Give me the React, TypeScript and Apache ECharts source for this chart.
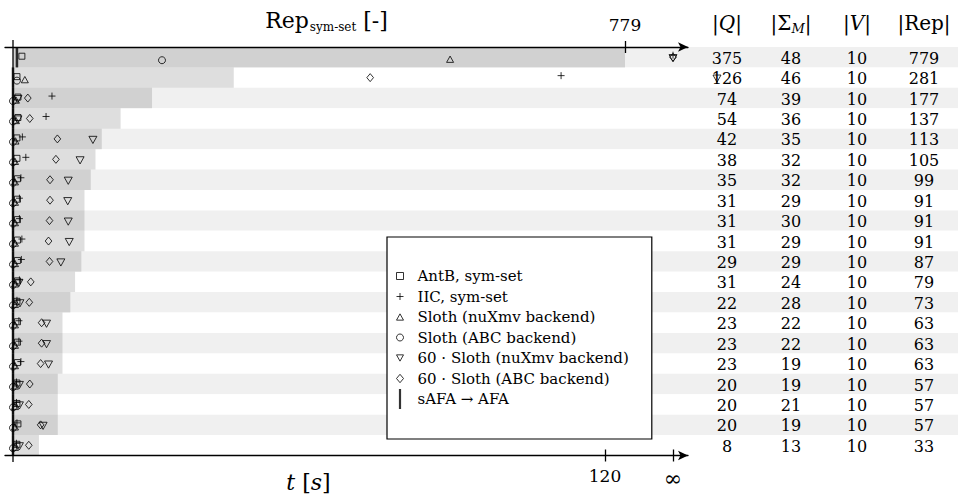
import React, { useEffect, useRef } from 'react';
import * as echarts from 'echarts';

// ---------- data ----------
const rowLabels = ['r1','r2','r3','r4','r5','r6','r7','r8','r9','r10','r11','r12','r13','r14','r15','r16','r17','r18','r19','r20'];
const qSizes = [375, 126, 74, 54, 42, 38, 35, 31, 31, 31, 29, 31, 22, 23, 23, 23, 20, 20, 20, 8];
const sigmaSizes = [48, 46, 39, 36, 35, 32, 32, 29, 30, 29, 29, 24, 28, 22, 22, 19, 19, 21, 19, 13];
const vSizes = [10, 10, 10, 10, 10, 10, 10, 10, 10, 10, 10, 10, 10, 10, 10, 10, 10, 10, 10, 10];
const repSizes = [779, 281, 177, 137, 113, 105, 99, 91, 91, 91, 87, 79, 73, 63, 63, 63, 57, 57, 57, 33];

// times in seconds, null = timeout (drawn at ∞)
const antbTimes = [1.8, 0.8, 1.0, 1.0, 0.8, 0.8, 0.9, 0.9, 0.9, 0.9, 0.9, 0.9, 0.8, 0.9, 0.9, 0.9, 0.8, 0.8, 1.0, 0.8];
const iicTimes = [null, 111.1, 7.9, 6.7, 1.9, 2.6, 1.6, 1.3, 1.3, 1.8, 1.7, 1.3, 0.8, 1.2, 1.2, 1.6, 0.7, 0.7, 0.8, 0.7];
const slothNuxmvTimes = [88.6, 2.4, 0.6, 0.6, 0.5, 0.4, 0.4, 0.4, 0.4, 0.4, 0.4, 0.4, 0.4, 0.4, 0.4, 0.4, 0.4, 0.4, 0.4, 0.4];
const slothAbcTimes = [30.2, 0.8, 0, 0, 0, 0, 0, 0, 0, 0, 0, 0, 0, 0, 0, 0, 0, 0, 0, 0];
const sloth60NuxmvTimes = [null, 142.7, 1.0, 1.0, 16.2, 13.6, 11.2, 11.1, 11.2, 11.4, 9.7, 1.2, 1.4, 6.8, 6.8, 7.2, 1.3, 1.3, 6.1, 1.3];
const sloth60AbcTimes = [null, 72.4, 3.0, 3.4, 9.0, 8.7, 7.5, 7.5, 7.4, 7.2, 7.4, 3.6, 3.3, 5.8, 5.8, 5.6, 3.4, 3.2, 5.6, 3.2];
const safaTimes = [0.8, 0, 0, 0, 0, 0, 0, 0, 0, 0, 0, 0, 0, 0, 0, 0, 0, 0, 0, 0];

const timeTicks = [120];
const tableHeaders = ['|{i|Q}|', '|Σ{sub|M}|', '|{i|V}|', '|Rep|'];

// ---------- layout ----------
const FONT = 'DejaVu Serif';
const GRID_LEFT = 5;
const GRID_RIGHT_X = 688;
const GRID_TOP = 47;
const GRID_H = 408.5;
const ORIGIN_X = 13;
const T_PX = (605 - ORIGIN_X) / 120;
const R_PX = (625 - ORIGIN_X) / 779;
const T_MIN = -(ORIGIN_X - GRID_LEFT) / T_PX;
const T_MAX = T_MIN + (GRID_RIGHT_X - GRID_LEFT) / T_PX;
const R_MIN = -(ORIGIN_X - GRID_LEFT) / R_PX;
const R_MAX = R_MIN + (GRID_RIGHT_X - GRID_LEFT) / R_PX;
const INF_T = (673 - ORIGIN_X) / T_PX;

const tableColX = [727, 791, 857, 924];
const rowH = GRID_H / rowLabels.length;

const SQUARE = 'path://M0,0L10,0L10,10L0,10Z';
const PLUS = 'path://M0,5L10,5M5,0L5,10';
const UP_TRI = 'path://M5,0L10,9L0,9Z';
const DOWN_TRI = 'path://M0,0L10,0L5,9Z';
const DIAMOND = 'path://M5,0L10,6L5,12L0,6Z';
const VLINE = 'path://M0,0L1.2,0L1.2,11L0,11Z';

const toPts = (arr: (number | null)[]) => arr.map((t, i) => [t === null ? INF_T : t, i]);

const hollow = { color: 'rgba(0,0,0,0)', borderColor: '#000', borderWidth: 1 };

function buildOption() {
  const scatter = (name: string, data: (number | null)[], symbol: string, size: any, offset: number[], style: any = hollow) => ({
    type: 'scatter',
    name,
    xAxisIndex: 0,
    yAxisIndex: 0,
    data: toPts(data),
    symbol,
    symbolSize: size,
    symbolOffset: offset,
    symbolKeepAspect: true,
    itemStyle: style,
    clip: false,
    silent: true,
    z: 5,
  });

  const tableTexts: any[] = [];
  const cols = [qSizes, sigmaSizes, vSizes, repSizes];
  cols.forEach((col, c) => {
    tableTexts.push({
      type: 'text',
      x: tableColX[c],
      y: 23,
      z: 20,
      style: {
        text: tableHeaders[c],
        fontFamily: FONT,
        fontSize: 20,
        fill: '#000',
        textAlign: 'center',
        textVerticalAlign: 'middle',
        align: 'center',
        verticalAlign: 'middle',
        rich: {
          i: { fontFamily: FONT, fontSize: 20, fontStyle: 'italic', fill: '#000' },
          sub: { fontFamily: FONT, fontSize: 13, fontStyle: 'italic', fill: '#000', padding: [10, 0, 0, 0] },
        },
      },
    });
    col.forEach((v, r) => {
      tableTexts.push({
        type: 'text',
        x: tableColX[c],
        y: GRID_TOP + (r + 0.5) * rowH + 1,
        z: 20,
        style: {
          text: String(v),
          fontFamily: FONT,
          fontSize: 16,
          fill: '#000',
          textAlign: 'center',
          textVerticalAlign: 'middle',
          align: 'center',
          verticalAlign: 'middle',
        },
      });
    });
  });

  const axisLineStyle = { color: '#000', width: 1.3 };
  const labelFmt = (v: number) => (Math.abs(v - INF_T) < 1e-6 ? '{inf|∞}' : String(v));
  const maxRep = Math.max(...repSizes);

  return {
    animation: false,
    backgroundColor: '#fff',
    textStyle: { fontFamily: FONT },
    grid: [
      { left: GRID_LEFT, top: GRID_TOP, width: GRID_RIGHT_X - GRID_LEFT, height: GRID_H, containLabel: false, outerBoundsMode: 'none' },
      { left: ORIGIN_X, top: GRID_TOP, right: 2, height: GRID_H, containLabel: false, outerBoundsMode: 'none' },
    ],
    xAxis: [
      {
        type: 'value', gridIndex: 0, position: 'bottom', min: T_MIN, max: T_MAX,
        axisLine: { show: true, onZero: false, lineStyle: axisLineStyle, symbol: ['none', 'arrow'], symbolSize: [7, 10], symbolOffset: [0, 0] },
        axisTick: { show: true, customValues: [...timeTicks, INF_T], length: 6, lineStyle: axisLineStyle },
        axisLabel: {
          show: true, customValues: [...timeTicks, INF_T], formatter: labelFmt, fontFamily: FONT, fontSize: 17, color: '#000', margin: 12,
          rich: { inf: { fontFamily: FONT, fontSize: 22, color: '#000', padding: [0, 0, 4, 0] } },
        },
        splitLine: { show: false },
        name: '{i|t} [{i|s}]',
        nameLocation: 'middle',
        nameGap: 16,
        nameMoveOverlap: false,
        nameTextStyle: {
          fontFamily: FONT, fontSize: 22, color: '#000', padding: [0, 76, 0, 0],
          rich: { i: { fontFamily: FONT, fontSize: 22, fontStyle: 'italic', color: '#000' } },
        },
      },
      {
        type: 'value', gridIndex: 0, position: 'top', min: R_MIN, max: R_MAX,
        axisLine: { show: true, onZero: false, lineStyle: axisLineStyle, symbol: ['none', 'arrow'], symbolSize: [7, 10] },
        axisTick: { show: true, customValues: [maxRep], length: 6, lineStyle: axisLineStyle },
        axisLabel: { show: true, customValues: [maxRep], fontFamily: FONT, fontSize: 17, color: '#000', margin: 14 },
        splitLine: { show: false },
        name: '{a|Rep}{b|sym-set} {a|[-]}',
        nameLocation: 'middle',
        nameGap: 14,
        nameMoveOverlap: false,
        nameTextStyle: {
          fontFamily: FONT, fontSize: 22, color: '#000', padding: [0, 40, 0, 0],
          rich: {
            a: { fontFamily: FONT, fontSize: 22, color: '#000' },
            b: { fontFamily: FONT, fontSize: 12, color: '#000', padding: [14, 0, 0, 1] },
          },
        },
      },
      {
        type: 'value', gridIndex: 0, position: 'bottom', min: T_MIN, max: T_MAX,
        axisLine: { show: false, onZero: false },
        axisTick: { show: true, inside: true, customValues: [...timeTicks, INF_T], length: 6, lineStyle: axisLineStyle },
        axisLabel: { show: false },
        splitLine: { show: false },
      },
      {
        type: 'value', gridIndex: 0, position: 'top', min: R_MIN, max: R_MAX,
        axisLine: { show: false, onZero: false },
        axisTick: { show: true, inside: true, customValues: [maxRep], length: 6, lineStyle: axisLineStyle },
        axisLabel: { show: false },
        splitLine: { show: false },
      },
      { type: 'value', gridIndex: 1, show: false, min: 0, max: 1 },
    ],
    yAxis: [
      { type: 'category', gridIndex: 0, data: rowLabels, inverse: true, show: false },
      {
        type: 'category', gridIndex: 1, data: rowLabels, inverse: true,
        axisLine: { show: false }, axisTick: { show: false }, axisLabel: { show: false },
        splitLine: { show: false },
        splitArea: { show: true, areaStyle: { color: ['#f0f0f0', '#ffffff'] } },
      },
    ],
    legend: {
      left: 387,
      top: 237,
      orient: 'vertical',
      itemWidth: 7,
      itemHeight: 20,
      itemGap: 0.5,
      padding: [29, 23, 30, 9],
      backgroundColor: '#fff',
      borderColor: '#000',
      borderWidth: 1.2,
      selectedMode: false,
      symbolKeepAspect: true,
      z: 30,
      textStyle: { fontFamily: FONT, fontSize: 15, lineHeight: 20, color: '#000', padding: [0, 0, 0, 9] },
      itemStyle: { borderWidth: 1 },
      data: [
        { name: 'AntB, sym-set' },
        { name: 'IIC, sym-set' },
        { name: 'Sloth (nuXmv backend)' },
        { name: 'Sloth (ABC backend)' },
        { name: '60 · Sloth (nuXmv backend)' },
        { name: '60 · Sloth (ABC backend)' },
        { name: 'sAFA → AFA', icon: VLINE },
      ],
    },
    series: [
      {
        type: 'bar',
        name: 'Rep',
        xAxisIndex: 1,
        yAxisIndex: 0,
        data: repSizes,
        barWidth: '100%',
        itemStyle: { color: 'rgba(0,0,0,0.13)' },
        silent: true,
        z: 1,
      },
      scatter('AntB, sym-set', antbTimes, SQUARE, 6, [0, -1]),
      scatter('IIC, sym-set', iicTimes, PLUS, 7, [0, -2]),
      scatter('Sloth (nuXmv backend)', slothNuxmvTimes, UP_TRI, 7, [0, 2]),
      scatter('Sloth (ABC backend)', slothAbcTimes, 'circle', 7, [0, 3]),
      scatter('60 · Sloth (nuXmv backend)', sloth60NuxmvTimes, DOWN_TRI, 8, [0, 1]),
      scatter('60 · Sloth (ABC backend)', sloth60AbcTimes, DIAMOND, 8, [0, 0]),
      scatter('sAFA → AFA', safaTimes, 'rect', [2.5, rowH], [0, 0], { color: '#000', borderWidth: 0 }),
    ],
    graphic: [
      { type: 'line', z: 40, shape: { x1: ORIGIN_X, y1: 40, x2: ORIGIN_X, y2: 462 }, style: { stroke: '#000', lineWidth: 1.3 } },
      ...tableTexts,
    ],
  };
}

export default function App() {
  const ref = useRef<HTMLDivElement>(null);
  useEffect(() => {
    if (!ref.current) return;
    const chart = echarts.init(ref.current, null, { renderer: 'svg' });
    chart.setOption(buildOption() as any);
    return () => chart.dispose();
  }, []);
  return <div ref={ref} style={{ position: 'absolute', left: 0, top: 0, width: 960, height: 494 }} />;
}
